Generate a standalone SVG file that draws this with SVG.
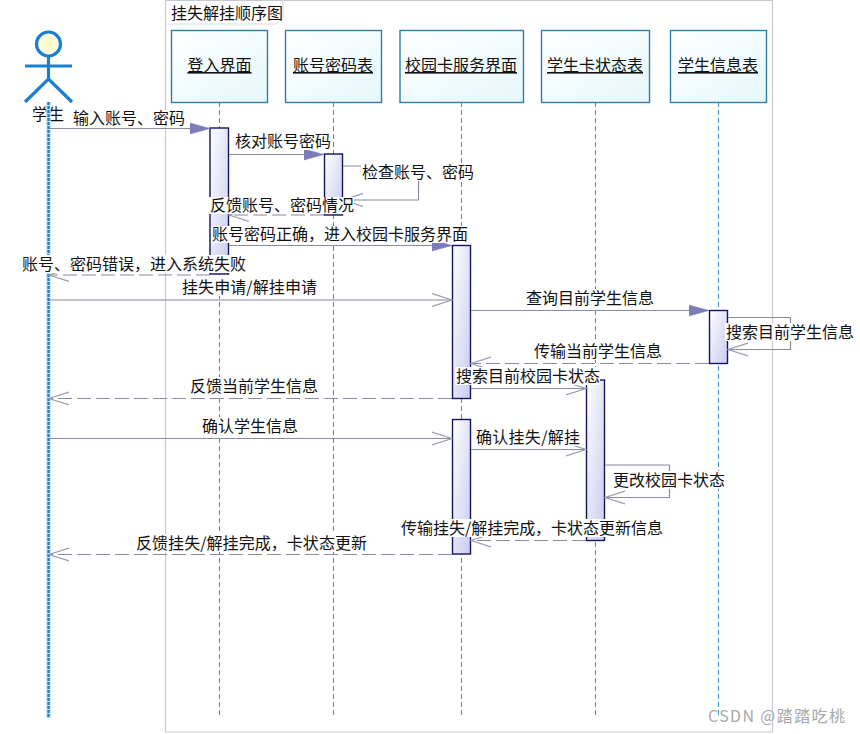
<svg xmlns="http://www.w3.org/2000/svg" width="860" height="734" viewBox="0 0 860 734">
<style>
text{font-family:"Noto Sans CJK SC","Liberation Sans",sans-serif;font-size:16px;fill:#111}
.box{fill:url(#nodeFill);stroke:#2f7ea3;stroke-width:1.4}
.name{text-decoration:underline;text-anchor:middle}
.life{fill:none;stroke:#3d8fb8;stroke-width:1;stroke-dasharray:5 3}
.act{fill:url(#actFill);stroke:#14145f;stroke-width:1.4}
.msg{fill:none;stroke:#8a8aa0;stroke-width:1.2}
.ret{stroke-dasharray:14 5}
.syn{marker-end:url(#filled)}
.opn{marker-end:url(#open)}
.bg{fill:#fff}
.actor{fill:none;stroke:#1b7fd1;stroke-width:3.2}
</style>
<defs>
<linearGradient id="nodeFill" x1="0" y1="0" x2="1" y2="1"><stop offset="0" stop-color="#ffffff"/><stop offset="1" stop-color="#e6f7fb"/></linearGradient>
<linearGradient id="actFill" x1="0" y1="0" x2="1" y2="1"><stop offset="0" stop-color="#ffffff"/><stop offset="1" stop-color="#c9c9f2"/></linearGradient>
<radialGradient id="headFill"><stop offset="0" stop-color="#fdfac0"/><stop offset="1" stop-color="#fdfce8"/></radialGradient>
<marker id="filled" markerUnits="userSpaceOnUse" markerWidth="22" markerHeight="14" refX="20" refY="7" orient="auto"><path d="M0 1.5L20 7L0 12.5Z" fill="#7c7cba" stroke="#7c7cba" stroke-width="0.5"/></marker>
<marker id="open" markerUnits="userSpaceOnUse" markerWidth="22" markerHeight="16" refX="20" refY="8" orient="auto"><path d="M0 1.5L20 8L0 14.5" fill="none" stroke="#9a9ab0" stroke-width="1.2"/></marker>
</defs>
<rect width="860" height="734" fill="#fff"/>
<g id="frame">
<path d="M165.500 732V0.500H772.500V732H165.500" fill="none" stroke="#c8c8d2" stroke-width="1.2"/>
<path d="M165.500 24H276L283 17V0.500" fill="none" stroke="#dcdce4" stroke-width="1"/>
<text x="171" y="18.600">挂失解挂顺序图</text>
</g>
<g id="actor-student">
<circle cx="48.500" cy="44" r="12" fill="url(#headFill)" stroke="#1b7fd1" stroke-width="3.2"/>
<path class="actor" d="M48.500 56V80M25 66H72M25 102L48.500 79L72 102"/>
<text x="32" y="120">学生</text>
</g>
<g id="lifelines">
<line class="life" x1="219.500" y1="102" x2="219.500" y2="718"/>
<line class="life" x1="333.500" y1="102" x2="333.500" y2="718"/>
<line class="life" x1="461.500" y1="102" x2="461.500" y2="718"/>
<line class="life" x1="595.500" y1="102" x2="595.500" y2="718"/>
<line class="life" x1="718.500" y1="102" x2="718.500" y2="718"/>
<line x1="48.500" y1="102" x2="48.500" y2="718" stroke="#c4e5f7" stroke-width="4.600"/>
<line x1="48.500" y1="102" x2="48.500" y2="718" stroke="#1b7fd1" stroke-width="2.400" stroke-dasharray="3 1"/>
</g>
<g id="node-login"><rect class="box" x="171.500" y="30.500" width="96" height="72"/><text class="name" x="219.500" y="71">登入界面</text></g>
<g id="node-account"><rect class="box" x="285.500" y="30.500" width="96" height="72"/><text class="name" x="333" y="71">账号密码表</text></g>
<g id="node-service"><rect class="box" x="400" y="30.500" width="123.500" height="72"/><text class="name" x="461" y="71">校园卡服务界面</text></g>
<g id="node-cardstate"><rect class="box" x="541.500" y="30.500" width="108" height="72"/><text class="name" x="595" y="71">学生卡状态表</text></g>
<g id="node-studentinfo"><rect class="box" x="670.500" y="30.500" width="96" height="72"/><text class="name" x="718" y="71">学生信息表</text></g>
<g id="activations">
<rect class="act" x="210" y="128" width="18.500" height="146"/>
<rect class="act" x="324.500" y="154" width="18" height="61"/>
<rect class="act" x="452.500" y="245.500" width="18" height="153"/>
<rect class="act" x="452.500" y="419.500" width="18" height="134.500"/>
<rect class="act" x="709.500" y="310.500" width="18" height="53"/>
<rect class="act" x="586.500" y="380" width="18" height="160.500"/>
</g>
<g id="connectors">
<path class="msg syn" d="M49 128.500H210"/>
<path class="msg syn" d="M229 154.500H324"/>
<path class="msg opn" d="M343 166H418.500V200H343"/>
<path class="msg ret opn" d="M324 215H229"/>
<path class="msg syn" d="M229 245.500H452"/>
<path class="msg ret opn" d="M210 275H49"/>
<path class="msg opn" d="M49 300H452"/>
<path class="msg syn" d="M471 310.500H709"/>
<path class="msg opn" d="M728 317.500H790.500V349.500H728"/>
<path class="msg ret opn" d="M709 363.500H471"/>
<path class="msg opn" d="M471 388.500H586"/>
<path class="msg ret opn" d="M452 398.500H49"/>
<path class="msg opn" d="M49 438.500H452"/>
<path class="msg opn" d="M471 449.500H586"/>
<path class="msg opn" d="M605 465H669.500V497.500H605"/>
<path class="msg ret opn" d="M586 540.500H471"/>
<path class="msg ret opn" d="M452 554.500H49"/>
</g>
<g id="labels">
<rect class="bg" x="72" y="110" width="113" height="17"/><text x="73" y="124">输入账号、密码</text>
<rect class="bg" x="234" y="132" width="97" height="18"/><text x="235" y="147">核对账号密码</text>
<rect class="bg" x="361" y="163" width="113" height="18"/><text x="362" y="178">检查账号、密码</text>
<rect class="bg" x="209" y="197" width="145" height="17"/><text x="210" y="211">反馈账号、密码情况</text>
<rect class="bg" x="211" y="226" width="257" height="17"/><text x="212" y="240">账号密码正确，进入校园卡服务界面</text>
<rect class="bg" x="21" y="255" width="225" height="18"/><text x="22" y="270">账号、密码错误，进入系统失败</text>
<rect class="bg" x="181" y="278" width="137" height="18"/><text x="182" y="293" textLength="135">挂失申请/解挂申请</text>
<rect class="bg" x="525" y="289" width="129" height="18"/><text x="526" y="304">查询目前学生信息</text>
<rect class="bg" x="725" y="323" width="129" height="18"/><text x="726" y="338">搜索目前学生信息</text>
<rect class="bg" x="533" y="342" width="129" height="18"/><text x="534" y="357">传输当前学生信息</text>
<rect class="bg" x="455" y="367" width="145" height="18"/><text x="456" y="382">搜索目前校园卡状态</text>
<rect class="bg" x="189" y="377" width="129" height="18"/><text x="190" y="392">反馈当前学生信息</text>
<rect class="bg" x="201" y="417" width="97" height="18"/><text x="202" y="432">确认学生信息</text>
<rect class="bg" x="475" y="428" width="106" height="18"/><text x="476" y="443" textLength="104">确认挂失/解挂</text>
<rect class="bg" x="612" y="471" width="113" height="18"/><text x="613" y="486">更改校园卡状态</text>
<rect class="bg" x="400" y="519" width="264" height="18"/><text x="401" y="534" textLength="262">传输挂失/解挂完成，卡状态更新信息</text>
<rect class="bg" x="135" y="534" width="233" height="18"/><text x="136" y="549" textLength="231">反馈挂失/解挂完成，卡状态更新</text>
</g>
<text x="708" y="722" style="font-size:16px;fill:#a8a8a8" textLength="137">CSDN @踏踏吃桃</text>
</svg>
